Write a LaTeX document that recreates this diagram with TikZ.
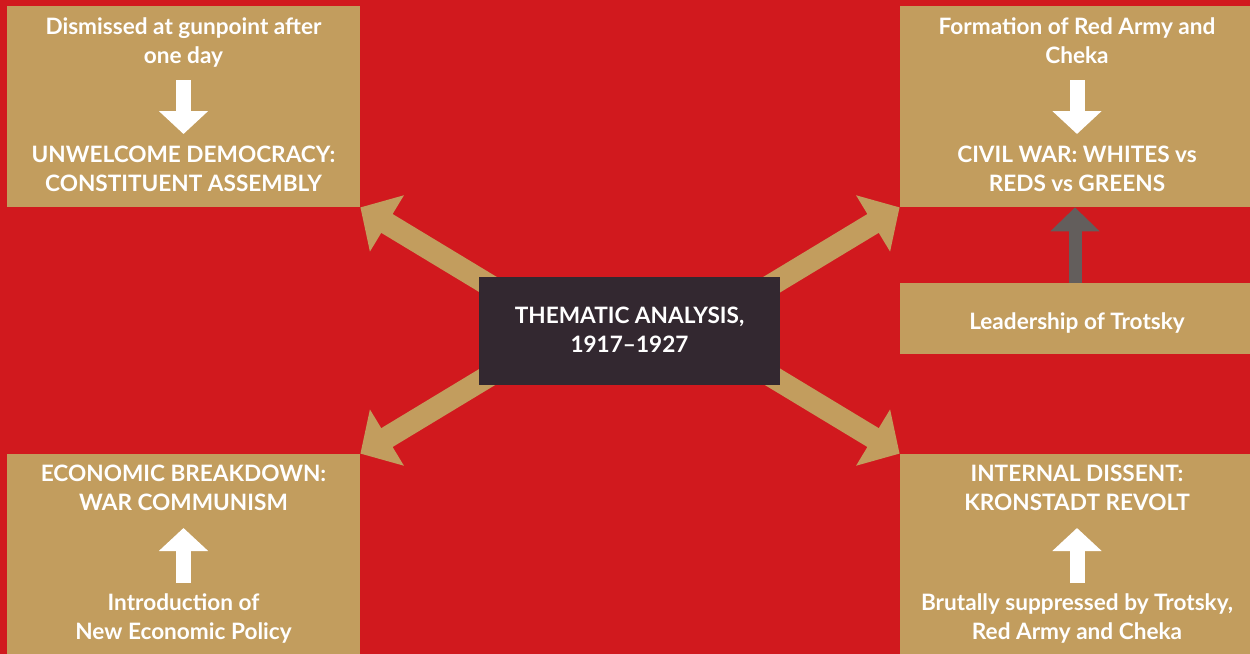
\documentclass[tikz,border=0pt]{standalone}
\usepackage{fontspec}
\setmainfont{Lato}
\usetikzlibrary{arrows.meta}
\definecolor{bgred}{HTML}{D1191E}
\definecolor{tan}{HTML}{C29D5E}
\definecolor{ink}{HTML}{332830}
\definecolor{slate}{HTML}{635E5C}
\begin{document}
\begin{tikzpicture}[x=0.5pt,y=-0.5pt,
  panel/.style={fill=tan, draw=none, inner sep=0pt},
  hub/.style={fill=ink, draw=none, inner sep=0pt},
  % text nodes are placed by the baseline of their last line
  txt/.style={text=white, font=\bfseries\fontsize{11.3}{14.3}\selectfont, align=center, inner sep=0pt, anchor=base},
  spoke/.style={tan, line width=11pt, -{Triangle[width=32pt,length=15.5pt]}},
  flow/.style={white, line width=7.5pt, -{Triangle[width=24pt,length=11.5pt]}},
  lead/.style={slate, line width=6.5pt, -{Triangle[width=24pt,length=12pt]}}]
  % canvas
  \fill[bgred] (0,0) rectangle (1250,654);
  \useasboundingbox (0,0) rectangle (1250,654);

  % panels
  \node[panel, minimum width=176.5pt, minimum height=100.5pt] (tl) at (183.5,106.5) {};
  \node[panel, minimum width=176.5pt, minimum height=100pt] (bl) at (183.5,554) {};
  \node[panel, minimum width=175pt, minimum height=100.5pt] (tr) at (1075,106.5) {};
  \node[panel, minimum width=175pt, minimum height=35.5pt] (ld) at (1075,318.5) {};
  \node[panel, minimum width=175pt, minimum height=100pt] (br) at (1075,554) {};

  % spokes from the hub, drawn under it
  \coordinate (sTL) at (560,328);
  \coordinate (sTR) at (700,328);
  \coordinate (sBL) at (560,333);
  \coordinate (sBR) at (700,333);
  \draw[spoke] (sTL) -- (tl.south east);
  \draw[spoke] (sTR) -- (tr.south west);
  \draw[spoke] (sBL) -- (bl.north east);
  \draw[spoke] (sBR) -- (br.north west);

  % hub
  \node[hub, minimum width=150.5pt, minimum height=54pt] (hub) at (629.5,331) {};
  \node[txt] (hubt) at (629.5,352) {THEMATIC ANALYSIS,\\1917--1927};

  % top left
  \node[txt] (tl1) at (183.5,63) {Dismissed at gunpoint after\\one day};
  \node[txt] (tl2) at (183.5,191) {UNWELCOME DEMOCRACY:\\CONSTITUENT ASSEMBLY};
  \coordinate (tlA) at (183.5,80);
  \coordinate (tlB) at (183.5,134);
  \draw[flow] (tlA) -- (tlB);

  % top right
  \node[txt] (tr1) at (1077,63) {Formation of Red Army and\\Cheka};
  \node[txt] (tr2) at (1077,191) {CIVIL WAR: WHITES vs\\REDS vs GREENS};
  \coordinate (trA) at (1077,80);
  \coordinate (trB) at (1077,134);
  \draw[flow] (trA) -- (trB);

  % leadership
  \node[txt] (ld1) at (1077,329) {Leadership of Trotsky};
  \draw[lead] (ld.north) -- (tr.south);

  % bottom left
  \node[txt] (bl1) at (183.5,510) {ECONOMIC BREAKDOWN:\\WAR COMMUNISM};
  \node[txt] (bl2) at (183.5,639) {Introduction of\\New Economic Policy};
  \coordinate (blA) at (183.5,583);
  \coordinate (blB) at (183.5,528);
  \draw[flow] (blA) -- (blB);

  % bottom right
  \node[txt] (br1) at (1077,510) {INTERNAL DISSENT:\\KRONSTADT REVOLT};
  \node[txt] (br2) at (1077,639) {Brutally suppressed by Trotsky,\\Red Army and Cheka};
  \coordinate (brA) at (1077,583);
  \coordinate (brB) at (1077,528);
  \draw[flow] (brA) -- (brB);
\end{tikzpicture}
\end{document}
